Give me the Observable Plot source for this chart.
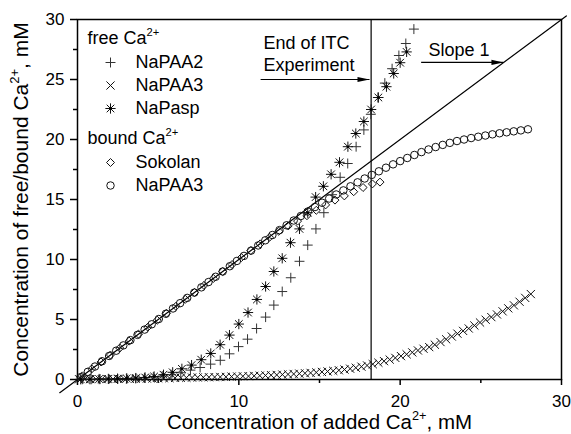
<!DOCTYPE html>
<html>
<head>
<meta charset="utf-8">
<script src="https://cdn.jsdelivr.net/npm/d3@7"></script>
<script src="https://cdn.jsdelivr.net/npm/@observablehq/plot@0.6"></script>
<style>
  html, body { margin: 0; padding: 0; background: #fff; }
</style>
</head>
<body>
<div id="chart"></div>
<script>
// ---------------- data ----------------
const xLabel = "Concentration of added Ca^2+, mM";
const yLabel = "Concentration of free/bound Ca^2+, mM";
const xMajor = [0, 10, 20, 30];
const xMinor = [5, 15, 25];
const yMajor = [0, 5, 10, 15, 20, 25, 30];
const yMinor = [2.5, 7.5, 12.5, 17.5, 22.5, 27.5];

const legendHeaders = ["free Ca^2+", "bound Ca^2+"];
const freeNames = ["NaPAA2", "NaPAA3", "NaPasp"];
const boundNames = ["Sokolan", "NaPAA3"];
const annotLines = ["End of ITC", "Experiment", "Slope 1"];

// free Ca2+, NaPAA2 (plus)
const paa2X = [0.3,0.85,1.4,1.95,2.5,3.05,3.6,4.15,4.7,5.25,5.8,6.4,7.0,7.6,8.25,8.85,9.42,9.98,10.54,11.1,11.66,12.17,12.69,13.22,13.76,14.27,14.78,15.27,15.78,16.28,16.75,17.27,17.75,18.18,18.62,19.05,19.5,19.92,20.35,20.85];
const paa2Y = [0.02,0.02,0.03,0.04,0.05,0.07,0.1,0.14,0.2,0.28,0.4,0.56,0.78,1.0,1.28,1.6,2.14,2.74,3.36,4.25,5.2,6.2,7.33,8.48,9.85,11.2,12.55,13.9,15.4,16.85,18.0,19.4,20.8,22.1,23.5,24.7,25.9,27.0,28.0,29.2];

// free Ca2+, NaPAA3 (times)
const paa3FreeX = [0.1,0.45,0.8,1.15,1.5,1.85,2.2,2.55,2.9,3.25,3.6,3.95,4.3,4.65,5.0,5.35,5.7,6.05,6.4,6.75,7.1,7.45,7.8,8.15,8.5,8.85,9.2,9.55,9.9,10.25,10.6,10.95,11.3,11.65,12.0,12.35,12.7,13.05,13.4,13.75,14.1,14.45,14.8,15.15,15.5,15.85,16.2,16.55,16.9,17.25,17.6,17.95,18.3,18.65,19.0,19.35,19.7,20.05,20.4,20.75,21.1,21.45,21.8,22.15,22.5,22.85,23.2,23.55,23.9,24.25,24.6,24.95,25.3,25.65,26.0,26.35,26.7,27.05,27.4,27.75,28.1];
const paa3FreeY = [0.02,0.02,0.03,0.03,0.03,0.04,0.04,0.05,0.05,0.06,0.06,0.07,0.08,0.09,0.1,0.11,0.12,0.13,0.14,0.15,0.16,0.17,0.18,0.19,0.2,0.21,0.22,0.24,0.25,0.27,0.28,0.3,0.32,0.34,0.36,0.38,0.41,0.43,0.46,0.49,0.52,0.55,0.59,0.63,0.67,0.72,0.77,0.83,0.9,0.98,1.07,1.17,1.28,1.4,1.53,1.66,1.8,1.95,2.1,2.26,2.42,2.56,2.7,2.9,3.12,3.35,3.58,3.82,4.05,4.25,4.5,4.75,4.98,5.2,5.42,5.68,5.93,6.18,6.48,6.8,7.12];

// free Ca2+, NaPasp (asterisk)
const paspX = [0.2,0.77,1.34,1.91,2.48,3.05,3.62,4.19,4.75,5.33,5.9,6.47,7.07,7.67,8.26,8.84,9.42,10.0,10.57,11.12,11.66,12.17,12.69,13.2,13.76,14.27,14.76,15.24,15.72,16.24,16.76,17.25,17.75,18.2,18.65,19.15,19.6,20.0,20.4];
const paspY = [0.02,0.03,0.04,0.05,0.07,0.09,0.12,0.17,0.25,0.4,0.6,0.89,1.2,1.65,2.17,2.9,3.7,4.62,5.58,6.67,7.75,9.0,10.1,11.4,12.55,13.9,15.2,16.1,17.1,18.1,19.4,20.5,21.5,22.5,23.5,24.4,25.5,26.4,27.3];

// bound Ca2+, Sokolan (diamond)
const sokX = [0.3,0.88,1.46,2.04,2.62,3.2,3.78,4.36,4.94,5.52,6.1,6.68,7.26,7.84,8.42,9.0,9.58,10.16,10.74,11.32,11.9,12.48,13.06,13.64,14.22,14.8,15.38,15.96,16.54,17.12,17.7,18.28,18.75];
const sokY = [0.3,0.88,1.46,2.04,2.62,3.2,3.78,4.36,4.94,5.52,6.1,6.68,7.26,7.84,8.42,9.0,9.58,10.16,10.74,11.3,11.85,12.35,12.8,13.2,13.65,14.1,14.55,14.95,15.3,15.65,16.0,16.3,16.45];

// bound Ca2+, NaPAA3 (circle)
const paa3BoundX = [0.2,0.64,1.08,1.52,1.96,2.4,2.84,3.28,3.72,4.16,4.6,5.04,5.48,5.92,6.36,6.8,7.24,7.68,8.12,8.56,9.0,9.44,9.88,10.32,10.76,11.2,11.64,12.08,12.52,12.96,13.4,13.84,14.28,14.72,15.16,15.6,16.04,16.48,16.92,17.36,17.8,18.24,18.68,19.12,19.56,20.0,20.44,20.88,21.32,21.76,22.2,22.64,23.08,23.52,23.96,24.4,24.84,25.28,25.72,26.16,26.6,27.04,27.48,27.92];
const paa3BoundY = [0.2,0.64,1.08,1.52,1.96,2.4,2.84,3.28,3.72,4.16,4.6,5.04,5.48,5.92,6.36,6.8,7.24,7.68,8.12,8.56,9.0,9.44,9.88,10.3,10.74,11.17,11.6,12.04,12.45,12.85,13.25,13.62,14.0,14.37,14.73,15.08,15.42,15.76,16.1,16.43,16.75,17.05,17.35,17.65,17.93,18.2,18.46,18.71,18.95,19.17,19.37,19.55,19.72,19.87,20.0,20.12,20.23,20.33,20.43,20.52,20.6,20.68,20.76,20.85];

// reference lines / annotations (data units)
const slopeRange = [-1.1, 30.3];
const itcEndX = 18.2;
const itcArrow = [{x1: 11.35, x2: 18.1, y: 25.0}];
const slopeArrow = [{x1: 21.3, x2: 26.4, y: 26.42}];

// ---------------- drawing ----------------
const FONT = "'Liberation Sans', Arial, Helvetica, sans-serif";
const INK = "#000";

function symbolMarks(kind, data, pos) {
  switch (kind) {
    case "plus":
      return [Plot.dot(data, {...pos, symbol: "plus", r: 3.3, stroke: "#333", strokeWidth: 1})];
    case "times":
      return [Plot.dot(data, {...pos, symbol: "times", r: 3.8, stroke: "#111", strokeWidth: 1})];
    case "asterisk":
      return [
        Plot.dot(data, {...pos, symbol: "plus", r: 3.4, stroke: "#111", strokeWidth: 1}),
        Plot.dot(data, {...pos, symbol: "times", r: 3.55, stroke: "#111", strokeWidth: 1}),
        Plot.dot(data, {...pos, symbol: "circle", r: 1.3, fill: "#000", stroke: "none"})
      ];
    case "diamond":
      return [Plot.dot(data, {...pos, symbol: "diamond2", r: 3.6, stroke: "#111", strokeWidth: 1})];
    case "circle":
      return [Plot.dot(data, {...pos, symbol: "circle", r: 3.75, fill: "none", stroke: "#111", strokeWidth: 1})];
  }
}

function label(str, opts) {
  return Plot.text([str], {text: d => d, lineAnchor: "middle", ...opts});
}

const marks = [
  Plot.frame({stroke: INK, strokeWidth: 1.5}),
  Plot.axisX({ticks: xMajor, tickSize: 6, tickPadding: 9, tickFormat: d => String(d), label: null, fontSize: 17, strokeWidth: 1.5}),
  Plot.axisX({ticks: xMinor, tickSize: 4, tickFormat: () => "", label: null, strokeWidth: 1.5}),
  Plot.axisY({ticks: yMajor, tickSize: 7, tickPadding: 6, tickFormat: d => String(d), label: null, fontSize: 17, strokeWidth: 1.5}),
  Plot.axisY({ticks: yMinor, tickSize: 4, tickFormat: () => "", label: null, strokeWidth: 1.5}),
  Plot.ruleX([itcEndX], {stroke: INK, strokeWidth: 1.2}),
  Plot.line(slopeRange, {x: d => d, y: d => d, stroke: INK, strokeWidth: 1.2}),
  ...symbolMarks("times", paa3FreeX, {x: paa3FreeX, y: paa3FreeY}),
  ...symbolMarks("diamond", sokX, {x: sokX, y: sokY}),
  ...symbolMarks("circle", paa3BoundX, {x: paa3BoundX, y: paa3BoundY}),
  ...symbolMarks("plus", paa2X, {x: paa2X, y: paa2Y}),
  ...symbolMarks("asterisk", paspX, {x: paspX, y: paspY}),
  Plot.link(itcArrow, {x1: "x1", x2: "x2", y1: "y", y2: "y", stroke: INK, strokeWidth: 1.2}),
  Plot.link(slopeArrow, {x1: "x1", x2: "x2", y1: "y", y2: "y", stroke: INK, strokeWidth: 1.2}),
  // annotation texts
  label(annotLines[0], {frameAnchor: "top-left", dx: 186, dy: 24, textAnchor: "start", fontSize: 18}),
  label(annotLines[1], {frameAnchor: "top-left", dx: 186, dy: 46, textAnchor: "start", fontSize: 18}),
  label(annotLines[2], {frameAnchor: "top-left", dx: 351, dy: 31, textAnchor: "start", fontSize: 18}),
  // axis titles
  label(xLabel, {frameAnchor: "bottom", dy: 43, textAnchor: "middle", fontSize: 20.5}),
  label(yLabel, {frameAnchor: "left", dx: -56, rotate: -90, textAnchor: "middle", fontSize: 21}),
  // legend headers
  label(legendHeaders[0], {frameAnchor: "top-left", dx: 10, dy: 19, textAnchor: "start", fontSize: 18}),
  label(legendHeaders[1], {frameAnchor: "top-left", dx: 10, dy: 119, textAnchor: "start", fontSize: 18})
];

const freeKinds = ["plus", "times", "asterisk"];
const freeDy = [43, 66, 89];
freeNames.forEach((name, i) => {
  marks.push(...symbolMarks(freeKinds[i], [name], {frameAnchor: "top-left", dx: 33, dy: freeDy[i]}));
  marks.push(label(name, {frameAnchor: "top-left", dx: 58, dy: freeDy[i], textAnchor: "start", fontSize: 18}));
});
const boundKinds = ["diamond", "circle"];
const boundDy = [143, 166];
boundNames.forEach((name, i) => {
  marks.push(...symbolMarks(boundKinds[i], [name], {frameAnchor: "top-left", dx: 33, dy: boundDy[i]}));
  marks.push(label(name, {frameAnchor: "top-left", dx: 58, dy: boundDy[i], textAnchor: "start", fontSize: 18}));
});

const chart = Plot.plot({
  width: 571,
  height: 434,
  marginLeft: 77,
  marginRight: 10,
  marginTop: 19,
  marginBottom: 55,
  x: {domain: [0, 30]},
  y: {domain: [0, 30]},
  style: {fontFamily: FONT, fontSize: "17px", color: "#000", background: "#fff", overflow: "visible"},
  marks
});

document.getElementById("chart").appendChild(chart);

// arrowheads (filled)
const svg = d3.select(chart);
const defs = svg.insert("defs", ":first-child");
defs.append("marker")
  .attr("id", "annot-head")
  .attr("markerUnits", "userSpaceOnUse")
  .attr("markerWidth", 12).attr("markerHeight", 6)
  .attr("refX", 12).attr("refY", 3)
  .attr("orient", "auto")
  .attr("overflow", "visible")
  .append("path").attr("d", "M0,0.4L12,3L0,5.6Z").attr("fill", "#000");
svg.selectAll('g[aria-label="link"] path').attr("marker-end", "url(#annot-head)");

// superscripts for "Ca^2+"
svg.selectAll("text").each(function () {
  const t = this.textContent;
  if (!t.includes("^")) return;
  const fs = parseFloat(getComputedStyle(this).fontSize) || 17;
  const m = t.match(/^(.*)\^(\S*?\+)(.*)$/);
  if (!m) return;
  const el = d3.select(this);
  el.text(null);
  el.append("tspan").text(m[1]);
  el.append("tspan").attr("dy", -0.45 * fs).attr("font-size", 0.62 * fs).text(m[2]);
  el.append("tspan").attr("dy", 0.45 * fs).text(m[3]);
});
</script>
</body>
</html>
